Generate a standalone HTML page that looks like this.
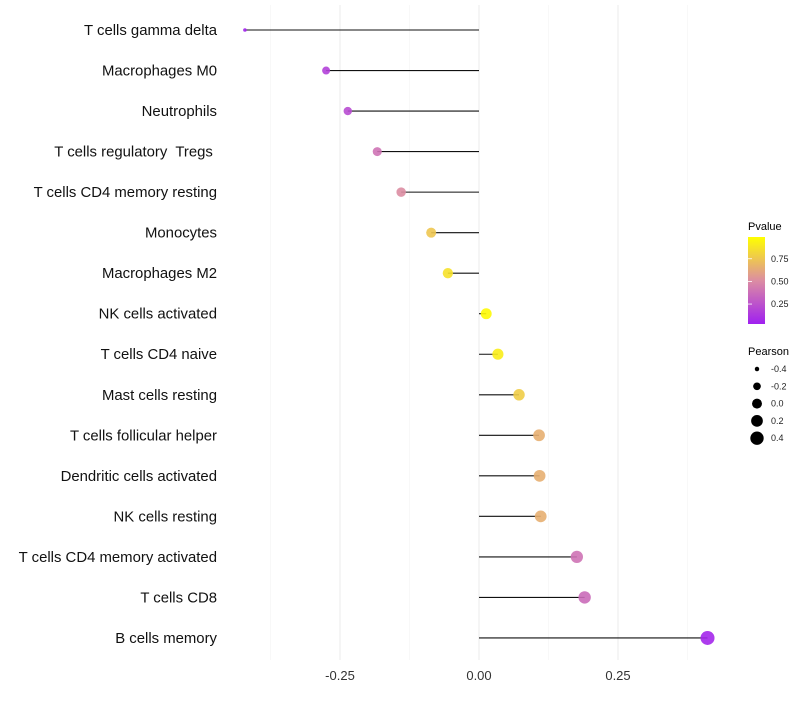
<!DOCTYPE html>
<html><head><meta charset="utf-8"><style>
body{margin:0;background:#fff;font-family:"Liberation Sans",sans-serif}
</style></head><body>
<svg id="chart" width="800" height="700" xmlns="http://www.w3.org/2000/svg" font-family="Liberation Sans, sans-serif">
<g id="grid"></g>
<g id="marks"></g>
<g id="labels"></g>
<g id="xticks"></g>
<g id="legend">
<defs><linearGradient id="pg" x1="0" y1="1" x2="0" y2="0">
<stop offset="0" stop-color="#a020f0"/><stop offset="0.5" stop-color="#dc8da2"/><stop offset="1" stop-color="#ffff00"/></linearGradient></defs>
<text x="748" y="230" font-size="11">Pvalue</text>
<rect x="748" y="237" width="17" height="87" fill="url(#pg)"/>
<g id="pticks"></g>
<text x="748" y="355" font-size="11">Pearson</text>
<g id="sizeleg"></g>
</g>
</svg>
<script>
const categories=["T cells gamma delta","Macrophages M0","Neutrophils","T cells regulatory  Tregs ","T cells CD4 memory resting","Monocytes","Macrophages M2","NK cells activated","T cells CD4 naive","Mast cells resting","T cells follicular helper","Dendritic cells activated","NK cells resting","T cells CD4 memory activated","T cells CD8","B cells memory"];
const pearson=[-0.421,-0.275,-0.236,-0.183,-0.140,-0.086,-0.056,0.013,0.034,0.072,0.108,0.109,0.111,0.176,0.190,0.411];
const pvalues=[0.02,0.15,0.2,0.38,0.5,0.75,0.87,0.98,0.92,0.78,0.65,0.65,0.65,0.38,0.35,0.03];
const xTicks=[-0.25,0,0.25];
const xTickLabels=["-0.25","0.00","0.25"];
const pTicks=[0.25,0.5,0.75];
const pTickLabels=["0.25","0.50","0.75"];
const sizeVals=[-0.4,-0.2,0.0,0.2,0.4];
const sizeLabels=["-0.4","-0.2","0.0","0.2","0.4"];

const NS="http://www.w3.org/2000/svg";
const x=v=>479+v*556;
const y=i=>30+i*40.53;
const r=v=>v<-0.35?1.8:Math.sqrt(Math.max(1,29.25+48.2*v));
const rl=v=>Math.sqrt(Math.max(3,24.7+49.4*v));
function lerp(a,b,t){return a.map((c,k)=>Math.round(c+(b[k]-c)*t));}
function col(p){const A=[160,32,240],M=[220,141,162],B=[255,255,0];
 const c=p<0.5?lerp(A,M,p/0.5):lerp(M,B,(p-0.5)/0.5);return `rgb(${c.join(',')})`;}
function mk(t,a,parent){const e=document.createElementNS(NS,t);for(const k in a)e.setAttribute(k,a[k]);document.getElementById(parent).appendChild(e);return e;}

[-0.375,-0.125,0.125,0.375].forEach(v=>{const e=mk('line',{x1:x(v),x2:x(v),y1:5,y2:660,stroke:'#f3f3f3','stroke-width':0.6},'grid');

});
xTicks.forEach((v,i)=>{const e=mk('line',{x1:x(v),x2:x(v),y1:5,y2:660,stroke:'#ebebeb','stroke-width':1},'grid');


const t=mk('text',{x:x(v),y:680,'font-size':13,'text-anchor':'middle',fill:'#333'},'xticks');t.textContent=xTickLabels[i];

});

categories.forEach((c,i)=>{
const t=mk('text',{x:217,y:y(i)+5,'font-size':14.9,'text-anchor':'end',fill:'#111','xml:space':'preserve',style:'white-space:pre'},'labels');t.textContent=c;


const l=mk('line',{x1:x(0),x2:x(pearson[i]),y1:y(i),y2:y(i),stroke:'#111','stroke-width':1.1},'marks');


const p=mk('circle',{cx:x(pearson[i]),cy:y(i),r:r(pearson[i]),fill:col(pvalues[i]),'fill-opacity':0.9},'marks');


});

pTicks.forEach((v,i)=>{const yy=324-(v-0.03)/(0.99-0.03)*87;
const l=mk('line',{x1:748,x2:752,y1:yy,y2:yy,stroke:'#fff','stroke-width':0.8},'pticks');


const t=mk('text',{x:771,y:yy+3,'font-size':9,fill:'#222'},'pticks');t.textContent=pTickLabels[i];

});

sizeVals.forEach((v,i)=>{const yy=369+i*17.3;
const c=mk('circle',{cx:757,cy:yy,r:rl(v),fill:'#000'},'sizeleg');


const t=mk('text',{x:771,y:yy+3,'font-size':9,fill:'#222'},'sizeleg');t.textContent=sizeLabels[i];

});
</script>
</body></html>
